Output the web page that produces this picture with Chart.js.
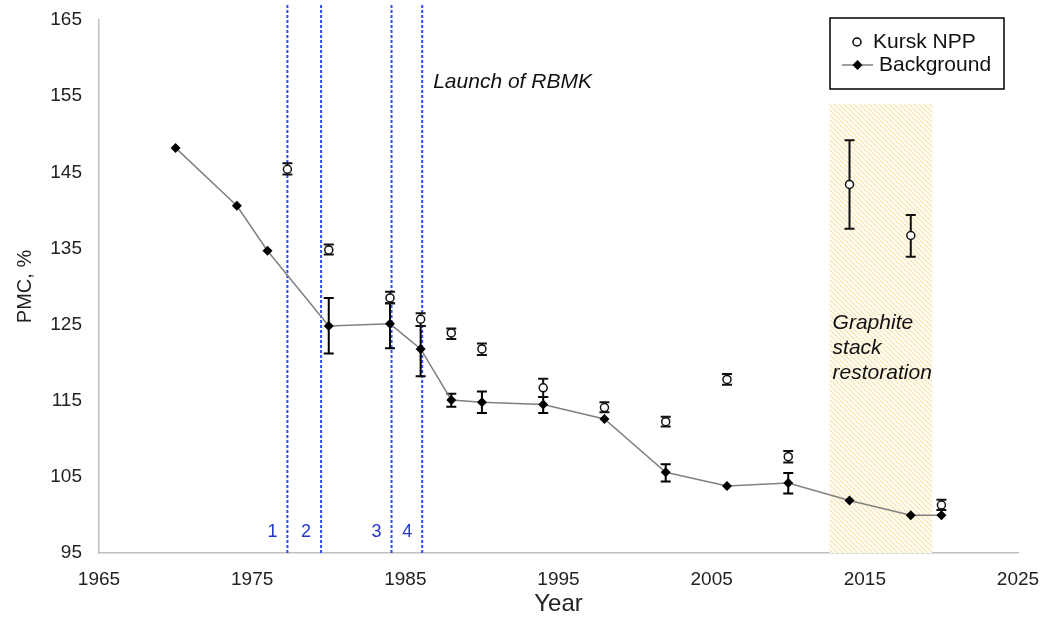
<!DOCTYPE html>
<html>
<head>
<meta charset="utf-8">
<script src="https://cdn.jsdelivr.net/npm/chart.js@4.4.1/dist/chart.umd.min.js"></script>
<style>
  html, body { margin: 0; padding: 0; background: #fff; }
</style>
</head>
<body>
<canvas id="pmcChart" width="1049" height="621"></canvas>
<script>
// Background series (diamonds + line)
var bgYears  = [1970, 1974, 1976, 1980, 1984, 1986, 1988, 1990, 1994, 1998, 2002, 2006, 2010, 2014, 2018, 2020];
var bgValues = [148.2, 140.6, 134.7, 124.8, 125.1, 121.8, 115.1, 114.8, 114.5, 112.6, 105.6, 103.8, 104.2, 101.9, 99.95, 99.95];
var bgLow    = [null, null, null, 121.2, 121.9, 118.2, 114.2, 113.4, 113.4, null, 104.4, null, 102.8, null, null, null];
var bgHigh   = [null, null, null, 128.5, 127.8, 124.8, 115.9, 116.2, 115.5, null, 106.65, null, 105.5, null, null, null];

// Kursk NPP series (open circles)
var npYears  = [1977.3, 1980, 1984, 1986, 1988, 1990, 1994, 1998, 2002, 2006, 2010, 2014, 2018, 2020];
var npValues = [145.4, 134.8, 128.5, 125.7, 123.9, 121.8, 116.7, 114.1, 112.25, 117.8, 107.65, 143.4, 136.7, 101.3];
var npLow    = [144.7, 134.2, 127.8, 124.8, 123.1, 121.0, 115.5, 113.5, 111.6, 117.1, 106.9, 137.6, 133.9, 100.65];
var npHigh   = [146.2, 135.5, 129.3, 126.5, 124.5, 122.5, 117.9, 114.8, 112.9, 118.5, 108.4, 149.2, 139.4, 102.0];

// RBMK unit launches
var launchYears  = [1977.3, 1979.5, 1984.1, 1986.1];
var launchLabels = ['1', '2', '3', '4'];

// Graphite stack restoration period
var bandStart = 2012.7;
var bandEnd = 2019.4;
var bandTop = 154;

var FONT = '"Liberation Sans", Arial, sans-serif';

function pairs(xs, ys) {
    return xs.map(function (x, i) { return { x: x, y: ys[i] }; });
}

function hatchPattern(ctx) {
    var c = document.createElement('canvas');
    c.width = 5; c.height = 5;
    var g = c.getContext('2d');
    g.fillStyle = '#fffef9';
    g.fillRect(0, 0, 5, 5);
    g.strokeStyle = '#f7e6b4';
    g.lineWidth = 1.3;
    g.beginPath();
    g.moveTo(0, 0); g.lineTo(5, 5);
    g.moveTo(-2.5, 2.5); g.lineTo(2.5, 7.5);
    g.moveTo(2.5, -2.5); g.lineTo(7.5, 2.5);
    g.stroke();
    return ctx.createPattern(c, 'repeat');
}

function drawErrorBars(ctx, xs, lo, hi, xScale, yScale, color, width) {
    ctx.strokeStyle = color;
    ctx.lineWidth = width;
    for (var i = 0; i < xs.length; i++) {
        if (lo[i] == null) continue;
        var x = xScale.getPixelForValue(xs[i]);
        var y1 = yScale.getPixelForValue(lo[i]);
        var y2 = yScale.getPixelForValue(hi[i]);
        ctx.beginPath();
        ctx.moveTo(x, y1); ctx.lineTo(x, y2);
        ctx.moveTo(x - 5, y1); ctx.lineTo(x + 5, y1);
        ctx.moveTo(x - 5, y2); ctx.lineTo(x + 5, y2);
        ctx.stroke();
    }
}

var extras = {
    id: 'extras',
    beforeDatasetsDraw: function (chart) {
        var ctx = chart.ctx;
        var xs = chart.scales.x, ys = chart.scales.y;
        var area = chart.chartArea;
        ctx.save();

        // hatched band
        var bx1 = xs.getPixelForValue(bandStart), bx2 = xs.getPixelForValue(bandEnd);
        var by = ys.getPixelForValue(bandTop);
        ctx.fillStyle = hatchPattern(ctx);
        ctx.fillRect(bx1, by, bx2 - bx1, area.bottom - by);

        ctx.fillStyle = '#111';
        ctx.font = 'italic 21px ' + FONT;
        ctx.textAlign = 'left';
        ctx.textBaseline = 'middle';
        ctx.fillText('Graphite', bx1 + 3, ys.getPixelForValue(125.2));
        ctx.fillText('stack', bx1 + 3, ys.getPixelForValue(121.9));
        ctx.fillText('restoration', bx1 + 3, ys.getPixelForValue(118.6));

        // launch lines
        ctx.strokeStyle = '#2a4dff';
        ctx.lineWidth = 2;
        ctx.setLineDash([3, 2]);
        ctx.font = '18px ' + FONT;
        ctx.textAlign = 'right';
        launchYears.forEach(function (yr, i) {
            var x = xs.getPixelForValue(yr);
            ctx.beginPath();
            ctx.moveTo(x, 5);
            ctx.lineTo(x, area.bottom);
            ctx.stroke();
            ctx.fillStyle = '#2236cc';
            ctx.fillText(launchLabels[i], x - 10, area.bottom - 21);
        });
        ctx.setLineDash([]);

        ctx.fillStyle = '#111';
        ctx.font = 'italic 21px ' + FONT;
        ctx.textAlign = 'left';
        ctx.fillText('Launch of RBMK', xs.getPixelForValue(launchYears[3]) + 11, 82);

        drawErrorBars(ctx, bgYears, bgLow, bgHigh, xs, ys, '#000', 2);
        drawErrorBars(ctx, npYears, npLow, npHigh, xs, ys, '#111', 2);
        ctx.restore();
    },
    afterDraw: function (chart) {
        var ctx = chart.ctx;
        ctx.save();
        // legend box
        ctx.strokeStyle = '#000';
        ctx.lineWidth = 1.5;
        ctx.strokeRect(830, 18, 174, 71);

        ctx.fillStyle = '#fff';
        ctx.beginPath();
        ctx.arc(857, 42, 4, 0, Math.PI * 2);
        ctx.fill();
        ctx.stroke();

        ctx.strokeStyle = '#808080';
        ctx.beginPath();
        ctx.moveTo(842, 65); ctx.lineTo(873, 65);
        ctx.stroke();
        ctx.fillStyle = '#000';
        ctx.beginPath();
        ctx.moveTo(857.5, 60); ctx.lineTo(862.5, 65); ctx.lineTo(857.5, 70); ctx.lineTo(852.5, 65);
        ctx.closePath();
        ctx.fill();

        ctx.fillStyle = '#111';
        ctx.font = '21px ' + FONT;
        ctx.textAlign = 'left';
        ctx.textBaseline = 'middle';
        ctx.fillText('Kursk NPP', 873, 42);
        ctx.fillText('Background', 879, 65);
        ctx.restore();
    }
};

document.addEventListener('DOMContentLoaded', function () {
    var ctx = document.getElementById('pmcChart');
    new Chart(ctx.getContext('2d'), {
        type: 'scatter',
        data: {
            datasets: [{
                label: 'Kursk NPP',
                data: pairs(npYears, npValues),
                showLine: false,
                pointStyle: 'circle',
                pointRadius: 4,
                pointBackgroundColor: '#fff',
                pointBorderColor: '#111',
                pointBorderWidth: 1.5
            }, {
                label: 'Background',
                data: pairs(bgYears, bgValues),
                showLine: true,
                borderColor: '#808080',
                borderWidth: 1.5,
                pointStyle: 'rectRot',
                pointRadius: 5,
                pointBackgroundColor: '#000',
                pointBorderColor: '#000',
                pointBorderWidth: 0
            }]
        },
        options: {
            responsive: false,
            animation: false,
            events: [],
            layout: { padding: { left: 13, right: 31, top: 20, bottom: 2 } },
            plugins: { legend: { display: false }, tooltip: { enabled: false } },
            scales: {
                x: {
                    type: 'linear',
                    min: 1965, max: 2025,
                    grid: { display: false, drawTicks: false },
                    border: { display: true, color: '#bfbfbf', width: 1.5 },
                    ticks: { stepSize: 10, color: '#222', padding: 15, maxRotation: 0,
                             font: { family: FONT, size: 19 },
                             callback: function (v) { return String(v); } },
                    title: { display: true, text: 'Year', color: '#222', padding: 0,
                             font: { family: FONT, size: 24 } },
                    afterFit: function (s) {
                        s.height = 66;
                        s.paddingLeft = 0; s.paddingRight = 0;
                    }
                },
                y: {
                    min: 95, max: 165,
                    grid: { display: false, drawTicks: false },
                    border: { display: true, color: '#bfbfbf', width: 1.5 },
                    ticks: { stepSize: 10, color: '#222', padding: 17,
                             font: { family: FONT, size: 19 } },
                    title: { display: true, text: 'PMC, %', color: '#222', padding: 0,
                             font: { family: FONT, size: 20 } },
                    afterFit: function (s) {
                        s.width = 86;
                        s.paddingTop = 0; s.paddingBottom = 0;
                    }
                }
            }
        },
        plugins: [extras]
    });
});
</script>
</body>
</html>
